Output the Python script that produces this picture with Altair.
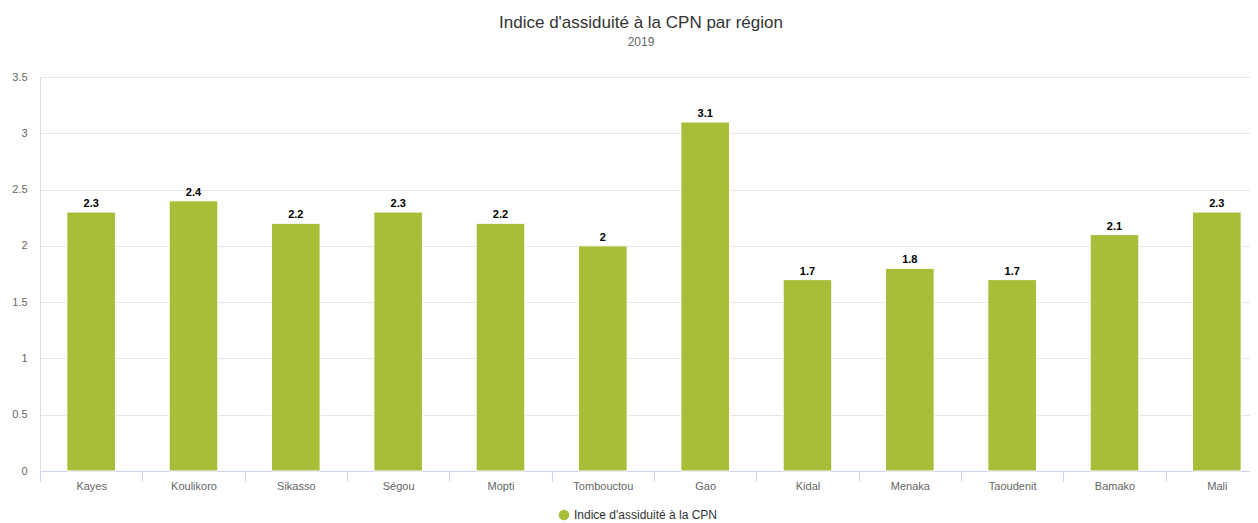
import altair as alt
import pandas as pd

regions = ["Kayes", "Koulikoro", "Sikasso", "Ségou", "Mopti", "Tombouctou",
           "Gao", "Kidal", "Menaka", "Taoudenit", "Bamako", "Mali"]
values = [2.3, 2.4, 2.2, 2.3, 2.2, 2.0, 3.1, 1.7, 1.8, 1.7, 2.1, 2.3]
series_name = "Indice d'assiduité à la CPN"

df = pd.DataFrame({"region": regions, "value": values, "serie": series_name})

FONT = "Liberation Sans"
W, H = 1210, 394
XR = 1228  # full category extent (continues past the right edge of the window)
step = XR / 12.0

x_enc = alt.X("region:N", sort=regions, title=None,
              scale=alt.Scale(range=[0, XR], paddingInner=0.525, paddingOuter=0.2625),
              axis=alt.Axis(labelAngle=0, labelFontSize=11, labelColor="#666666",
                            labelFont=FONT, domainColor="#ccd6eb", tickColor="#ccd6eb",
                            tickSize=10, tickOffset=-step / 2, labelOffset=step / 2,
                            labelPadding=-1, grid=False))
y_enc = alt.Y("value:Q", title=None,
              scale=alt.Scale(domain=[0, 3.5], nice=False),
              axis=alt.Axis(values=[0, 0.5, 1, 1.5, 2, 2.5, 3, 3.5], format=".1~f",
                            labelFontSize=11, labelColor="#666666", labelFont=FONT,
                            domain=False, ticks=False, labelPadding=13,
                            gridColor="#e6e6e6", gridWidth=1))

base = alt.Chart(df)

bars = base.mark_bar(stroke="white", strokeWidth=1).encode(
    x=x_enc, y=y_enc,
    color=alt.Color("serie:N", title=None,
                    scale=alt.Scale(range=["#a9bd38"]),
                    legend=alt.Legend(orient="none", legendX=518, legendY=432,
                                      symbolType="circle", symbolSize=110,
                                      symbolStrokeWidth=0, labelFontSize=12,
                                      labelColor="#333333", labelFont=FONT,
                                      direction="horizontal")),
)

labels = base.mark_text(baseline="alphabetic", dy=-5, fontSize=11, fontWeight="bold",
                        color="#000000", font=FONT).encode(
    x=alt.X("region:N", sort=regions),
    y=alt.Y("value:Q"),
    text=alt.Text("value:Q", format="~g"),
)

chart = alt.layer(bars, labels).properties(
    width=W, height=H,
    padding={"left": 32, "top": 69, "right": 0, "bottom": 50},
    autosize=alt.AutoSizeParams(type="none"),
    title=alt.TitleParams(text="Indice d'assiduité à la CPN par région",
                          subtitle="2019", anchor="middle", frame="group", dx=-4,
                          font=FONT, fontSize=17, fontWeight="normal", color="#333333",
                          subtitleFont=FONT, subtitleFontSize=12, subtitleColor="#666666",
                          subtitlePadding=5, offset=22),
).configure_view(strokeWidth=0).configure(background="white")

chart.save("out.html", embed_options={"renderer": "svg", "actions": False})
